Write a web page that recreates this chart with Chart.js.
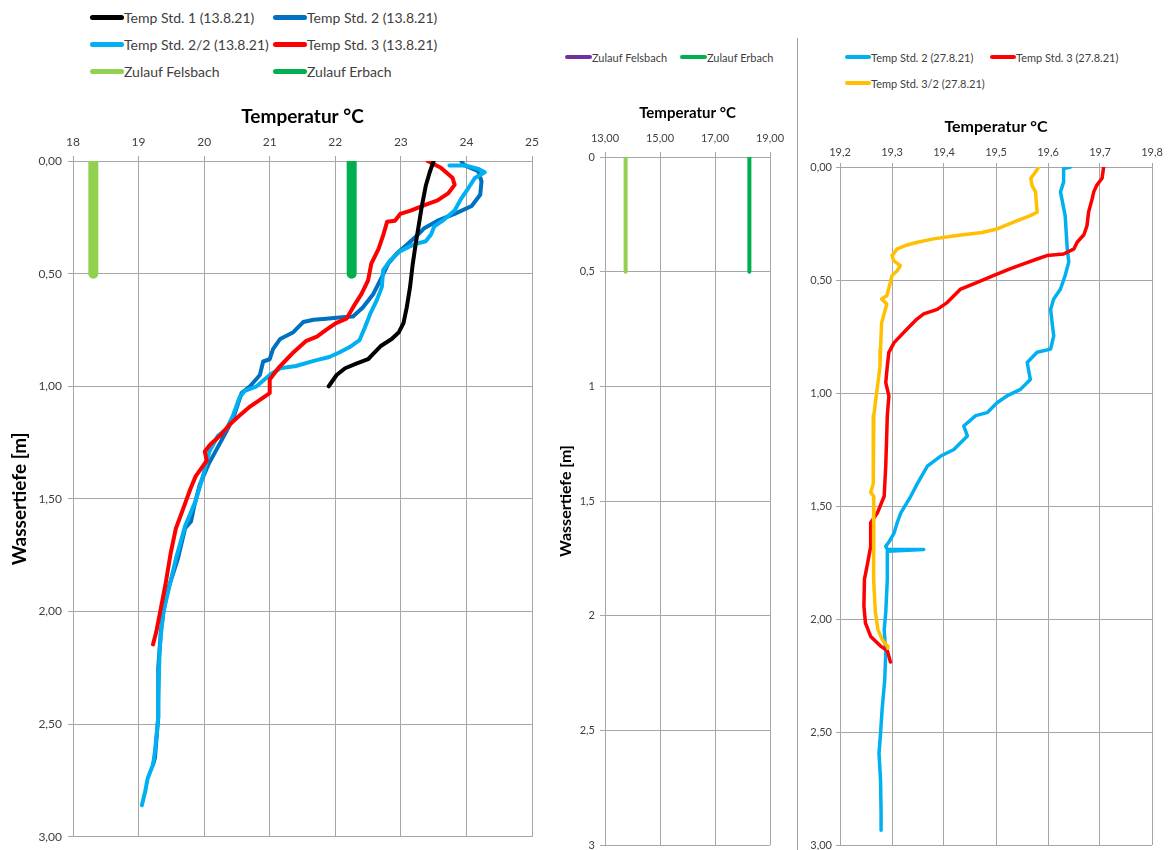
<!DOCTYPE html>
<html>
<head>
<meta charset="utf-8">
<script src="https://cdn.jsdelivr.net/npm/chart.js@4.4.1/dist/chart.umd.min.js"></script>
<style>
  body { margin: 0; width: 1170px; height: 850px; overflow: hidden; background: #fff; font-family: Lato, sans-serif; }
  canvas { position: absolute; }
  .legend { position: absolute; display: grid; color: #404040; }
  .legend .item { display: flex; align-items: center; white-space: nowrap; }
  .legend i { display: inline-block; border-radius: 3px; flex: none; }
  #leg1 { left: 90px; top: 4px; grid-template-columns: 183px 183px; grid-auto-rows: 27px; font-size: 14px; }
  #leg1 i { width: 34px; height: 5px; }
  #leg2 { left: 565px; top: 48px; grid-template-columns: 115px 115px; grid-auto-rows: 18px; font-size: 11px; }
  #leg2 i { width: 27px; height: 4px; }
  #leg3 { left: 845px; top: 44px; grid-template-columns: 145px 145px; grid-auto-rows: 26px; font-size: 11px; }
  #leg3 i { width: 26px; height: 4px; }
  #sep { position: absolute; left: 797px; top: 38px; width: 1px; height: 812px; background: #a0a0a0; }
</style>
</head>
<body>
<div id="leg1" class="legend"></div>
<div id="leg2" class="legend"></div>
<div id="leg3" class="legend"></div>
<div id="sep"></div>
<canvas id="chart1" width="550" height="755" style="left:0;top:95px"></canvas>
<canvas id="chart2" width="245" height="770" style="left:550px;top:95px"></canvas>
<canvas id="chart3" width="370" height="775" style="left:800px;top:95px"></canvas>
<script>
// ---- Messung 13.8.21 (Wassertiefe [m] / Temperatur °C)
const std1Depth = [0, 0.05, 0.11, 0.2, 0.29, 0.38, 0.46, 0.56, 0.65, 0.72, 0.76, 0.79, 0.82, 0.85, 0.88, 0.90, 0.92, 0.95, 1.0];
const std1Temp = [23.50, 23.44, 23.38, 23.32, 23.27, 23.22, 23.18, 23.14, 23.09, 23.04, 22.97, 22.86, 22.70, 22.60, 22.50, 22.32, 22.15, 22.02, 21.90];

const std2Depth = [0, 0.02, 0.045, 0.09, 0.15, 0.2, 0.235, 0.265, 0.30, 0.33, 0.37, 0.41, 0.455, 0.515, 0.59, 0.65, 0.69, 0.695, 0.70, 0.705, 0.715, 0.76, 0.79, 0.835, 0.88, 0.89, 0.95, 1.0, 1.03, 1.145, 1.20, 1.28, 1.35, 1.44, 1.53, 1.60, 1.63, 1.765, 1.91, 2.0, 2.09, 2.25, 2.47, 2.65, 2.68];
const std2Temp = [23.92, 23.97, 24.18, 24.23, 24.21, 24.08, 23.82, 23.56, 23.35, 23.25, 23.10, 22.94, 22.81, 22.71, 22.58, 22.42, 22.27, 22.06, 21.86, 21.67, 21.51, 21.36, 21.16, 21.05, 21.00, 20.90, 20.85, 20.70, 20.57, 20.44, 20.34, 20.19, 20.06, 19.93, 19.85, 19.80, 19.71, 19.60, 19.44, 19.38, 19.34, 19.30, 19.30, 19.25, 19.22];

const std22Depth = [0.02, 0.02, 0.035, 0.05, 0.075, 0.12, 0.167, 0.22, 0.26, 0.29, 0.326, 0.356, 0.37, 0.40, 0.44, 0.485, 0.56, 0.62, 0.68, 0.74, 0.795, 0.826, 0.85, 0.87, 0.885, 0.91, 0.92, 0.95, 1.0, 1.02, 1.05, 1.13, 1.19, 1.22, 1.29, 1.40, 1.51, 1.62, 1.765, 1.90, 2.0, 2.10, 2.18, 2.40, 2.47, 2.62, 2.68, 2.74, 2.80, 2.86];
const std22Temp = [23.74, 23.98, 24.18, 24.28, 24.13, 24.03, 23.92, 23.82, 23.66, 23.51, 23.46, 23.38, 23.20, 22.99, 22.84, 22.73, 22.71, 22.63, 22.53, 22.45, 22.37, 22.22, 22.06, 21.91, 21.70, 21.40, 21.16, 21.00, 20.80, 20.62, 20.54, 20.44, 20.34, 20.21, 20.08, 19.98, 19.87, 19.71, 19.57, 19.46, 19.38, 19.34, 19.32, 19.30, 19.30, 19.25, 19.22, 19.14, 19.10, 19.05];

const std3Depth = [0, 0.03, 0.076, 0.106, 0.144, 0.175, 0.197, 0.22, 0.235, 0.265, 0.27, 0.33, 0.39, 0.455, 0.53, 0.59, 0.65, 0.70, 0.72, 0.75, 0.78, 0.80, 0.85, 0.88, 0.92, 0.97, 1.03, 1.06, 1.09, 1.13, 1.17, 1.22, 1.26, 1.29, 1.33, 1.40, 1.456, 1.56, 1.63, 1.74, 1.88, 2.0, 2.09, 2.146];
const std3Temp = [23.41, 23.61, 23.79, 23.82, 23.72, 23.56, 23.35, 23.15, 22.99, 22.91, 22.79, 22.73, 22.66, 22.55, 22.50, 22.40, 22.27, 22.17, 22.01, 21.86, 21.72, 21.55, 21.36, 21.26, 21.13, 21.00, 21.00, 20.85, 20.70, 20.54, 20.39, 20.24, 20.09, 20.01, 20.04, 19.87, 19.79, 19.66, 19.57, 19.49, 19.41, 19.33, 19.27, 19.22];

// Zulauf: Tiefe 0 bis 0,5 m
const zulaufDepth = [0, 0.5];
const felsbachTemp1 = [18.31, 18.31];
const erbachTemp1 = [22.25, 22.25];
const felsbachTemp2 = [13.75, 13.75];
const erbachTemp2 = [18.25, 18.25];
const zulaufLegendColors = ['#7030A0', '#00B050'];

// ---- Messung 27.8.21
const s2Depth = [0, 0.007, 0.067, 0.11, 0.215, 0.362, 0.42, 0.48, 0.54, 0.584, 0.63, 0.69, 0.747, 0.806, 0.82, 0.865, 0.94, 0.984, 1.013, 1.043, 1.087, 1.10, 1.146, 1.19, 1.25, 1.28, 1.324, 1.40, 1.457, 1.53, 1.574, 1.62, 1.66, 1.678, 1.692, 1.692, 1.70, 1.825, 1.97, 2.047, 2.15, 2.27, 2.40, 2.506, 2.595, 2.713, 2.86, 2.935];
const s2Temp = [19.643, 19.630, 19.630, 19.624, 19.633, 19.637, 19.640, 19.633, 19.624, 19.611, 19.605, 19.608, 19.611, 19.605, 19.579, 19.560, 19.566, 19.547, 19.521, 19.502, 19.483, 19.461, 19.438, 19.445, 19.419, 19.393, 19.368, 19.349, 19.336, 19.317, 19.310, 19.304, 19.294, 19.288, 19.291, 19.361, 19.291, 19.291, 19.288, 19.285, 19.288, 19.286, 19.281, 19.278, 19.275, 19.278, 19.279, 19.279];

const s3Depth = [0, 0.05, 0.08, 0.11, 0.14, 0.2, 0.26, 0.30, 0.333, 0.362, 0.385, 0.392, 0.407, 0.429, 0.45, 0.48, 0.51, 0.54, 0.57, 0.60, 0.63, 0.65, 0.673, 0.717, 0.777, 0.82, 0.88, 0.954, 1.013, 1.10, 1.176, 1.32, 1.457, 1.53, 1.574, 1.68, 1.766, 1.825, 1.944, 2.018, 2.077, 2.12, 2.14, 2.19];
const s3Temp = [19.707, 19.704, 19.694, 19.688, 19.685, 19.678, 19.675, 19.669, 19.656, 19.650, 19.630, 19.598, 19.579, 19.553, 19.528, 19.496, 19.464, 19.432, 19.419, 19.406, 19.387, 19.361, 19.348, 19.329, 19.304, 19.294, 19.291, 19.288, 19.294, 19.291, 19.290, 19.288, 19.285, 19.272, 19.259, 19.259, 19.252, 19.247, 19.246, 19.249, 19.259, 19.278, 19.291, 19.297];

const s32Depth = [0, 0.022, 0.05, 0.08, 0.11, 0.17, 0.20, 0.215, 0.237, 0.274, 0.29, 0.303, 0.318, 0.333, 0.345, 0.362, 0.392, 0.414, 0.436, 0.459, 0.48, 0.51, 0.57, 0.584, 0.606, 0.69, 0.806, 0.88, 0.954, 1.043, 1.10, 1.25, 1.40, 1.44, 1.457, 1.47, 1.60, 1.825, 1.97, 2.047, 2.09, 2.12, 2.13];
const s32Temp = [19.582, 19.576, 19.567, 19.569, 19.576, 19.578, 19.579, 19.566, 19.541, 19.502, 19.473, 19.425, 19.380, 19.349, 19.329, 19.310, 19.300, 19.303, 19.316, 19.310, 19.300, 19.297, 19.290, 19.280, 19.290, 19.280, 19.278, 19.277, 19.273, 19.268, 19.265, 19.264, 19.264, 19.259, 19.265, 19.265, 19.264, 19.265, 19.268, 19.273, 19.281, 19.291, 19.292];

// ---- Achsen
const depthRange = [0, 3, 0.5];
const tempRange1 = [18, 25, 1];
const tempRange2 = [13, 19, 2];
const tempRange3 = [19.2, 19.8, 0.1];

const GRID = '#a6a6a6';
const TICK = '#404040';
Chart.defaults.font.family = 'Lato, sans-serif';

function pts(depth, temp) {
    return depth.map(function (d, i) { return { x: temp[i], y: d }; });
}

function line(label, depth, temp, color, width, order) {
    return {
        label: label,
        data: pts(depth, temp),
        borderColor: color,
        backgroundColor: color,
        borderWidth: width,
        borderCapStyle: 'round',
        borderJoinStyle: 'round',
        pointRadius: 0,
        showLine: true,
        order: order || 0
    };
}

function comma(digits) {
    return function (v) {
        return digits < 0 ? String(+v.toFixed(2)).replace('.', ',') : v.toFixed(digits).replace('.', ',');
    };
}

// c: Layout-Werte je Diagramm
function makeScales(c) {
    return {
        x: {
            type: 'linear', position: 'top',
            min: c.x[0], max: c.x[1],
            ticks: { stepSize: c.x[2], callback: comma(c.xDigits), color: TICK, font: { size: c.tickSize }, padding: c.xPad, maxRotation: 0, autoSkip: false },
            grid: { color: GRID, tickLength: c.tickLen },
            border: { color: GRID },
            title: { display: true, text: 'Temperatur °C', color: '#000', font: { size: c.titleSize, weight: 'bold' }, padding: { top: c.titleTop, bottom: 0 } },
            afterFit: function (s) { s.height = c.xHeight; }
        },
        y: {
            type: 'linear', reverse: true,
            min: depthRange[0], max: depthRange[1],
            ticks: { stepSize: depthRange[2], callback: comma(c.yDigits), color: TICK, font: { size: c.tickSize }, padding: c.yPad },
            grid: { color: GRID, tickLength: c.tickLen },
            border: { color: GRID },
            title: { display: !!c.yTitle, text: 'Wassertiefe [m]', color: '#000', font: { size: c.yTitleSize, weight: 'bold' }, padding: { top: c.yTitleTop, bottom: 0 } },
            afterFit: function (s) { s.width = c.yWidth; }
        }
    };
}

function makeChart(id, datasets, c) {
    return new Chart(document.getElementById(id), {
        type: 'scatter',
        data: { datasets: datasets },
        options: {
            responsive: false,
            animation: false,
            layout: { padding: c.pad },
            plugins: { legend: { display: false }, tooltip: { enabled: false } },
            scales: makeScales(c)
        }
    });
}

function buildLegend(chart, id, colors) {
    const el = document.getElementById(id);
    chart.data.datasets.forEach(function (ds, i) {
        const item = document.createElement('span');
        item.className = 'item';
        const sw = document.createElement('i');
        sw.style.background = colors ? colors[i] : ds.borderColor;
        item.appendChild(sw);
        item.appendChild(document.createTextNode(ds.label));
        el.appendChild(item);
    });
}

const chart1 = makeChart('chart1', [
    line('Temp Std. 1 (13.8.21)', std1Depth, std1Temp, '#000000', 4, 1),
    line('Temp Std. 2 (13.8.21)', std2Depth, std2Temp, '#0070C0', 4, 4),
    line('Temp Std. 2/2 (13.8.21)', std22Depth, std22Temp, '#00B0F0', 4, 3),
    line('Temp Std. 3 (13.8.21)', std3Depth, std3Temp, '#FF0000', 4, 2),
    line('Zulauf Felsbach', zulaufDepth, felsbachTemp1, '#92D050', 10, 5),
    line('Zulauf Erbach', zulaufDepth, erbachTemp1, '#00B050', 10, 6)
], {
    x: tempRange1, xDigits: 0, yDigits: 2, tickSize: 12, tickLen: 5, xPad: 7, yPad: 6,
    titleSize: 19, titleTop: 10, xHeight: 66,
    yTitle: true, yTitleSize: 19, yTitleTop: 8, yWidth: 73,
    pad: { left: 0, top: 0, right: 18, bottom: 5 }
});

const chart2 = makeChart('chart2', [
    line('Zulauf Felsbach', zulaufDepth, felsbachTemp2, '#92D050', 4, 1),
    line('Zulauf Erbach', zulaufDepth, erbachTemp2, '#00B050', 4, 2)
], {
    x: tempRange2, xDigits: 2, yDigits: -1, tickSize: 11, tickLen: 5, xPad: 7, yPad: 5,
    titleSize: 15, titleTop: 9, xHeight: 62,
    yTitle: true, yTitleSize: 16, yTitleTop: 6, yWidth: 55,
    pad: { left: 0, top: 0, right: 25, bottom: 20 }
});

const chart3 = makeChart('chart3', [
    line('Temp Std. 2 (27.8.21)', s2Depth, s2Temp, '#00B0F0', 3.5, 3),
    line('Temp Std. 3 (27.8.21)', s3Depth, s3Temp, '#FF0000', 3.5, 2),
    line('Temp Std. 3/2 (27.8.21)', s32Depth, s32Temp, '#FFC000', 3.5, 1)
], {
    x: tempRange3, xDigits: 1, yDigits: 2, tickSize: 11, tickLen: 4, xPad: 4, yPad: 4,
    titleSize: 16, titleTop: 22, xHeight: 72,
    yTitle: false, yWidth: 40,
    pad: { left: 0, top: 0, right: 18, bottom: 25 }
});

buildLegend(chart1, 'leg1');
buildLegend(chart2, 'leg2', zulaufLegendColors);
buildLegend(chart3, 'leg3');
</script>
</body>
</html>
